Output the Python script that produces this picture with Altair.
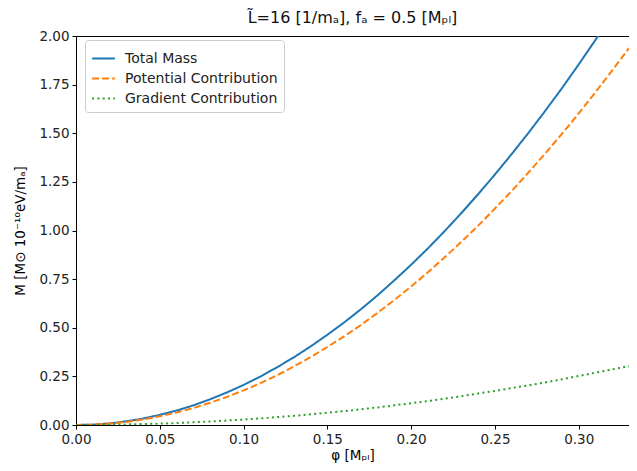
import altair as alt
import pandas as pd

phi = [0.00, 0.01, 0.02, 0.03, 0.04, 0.05, 0.06, 0.07, 0.08, 0.09, 0.10,
       0.11, 0.12, 0.13, 0.14, 0.15, 0.16, 0.17, 0.18, 0.19, 0.20,
       0.21, 0.22, 0.23, 0.24, 0.25, 0.26, 0.27, 0.28, 0.29, 0.30,
       0.31, 0.32, 0.33]
total_mass = [0, .002, .008, .019, .033, .052, .074, .101, .132, .167, .206,
              .249, .297, .348, .404, .464, .527, .595, .667, .744, .824,
              .908, .997, 1.090, 1.187, 1.288, 1.393, 1.502, 1.615, 1.732, 1.854,
              1.980, 2.109, 2.243]
potential = [0, .002, .007, .016, .028, .045, .064, .087, .114, .144, .178,
             .215, .256, .301, .349, .401, .456, .514, .577, .643, .712,
             .785, .862, .942, 1.025, 1.113, 1.203, 1.298, 1.396, 1.497, 1.602,
             1.711, 1.823, 1.938]
gradient = [0, .000, .001, .003, .005, .007, .010, .014, .018, .023, .028,
            .034, .041, .047, .055, .063, .071, .081, .090, .101, .112,
            .123, .135, .148, .162, .175, .190, .204, .219, .235, .252,
            .269, .286, .303]

series_names = ["Total Mass", "Potential Contribution", "Gradient Contribution"]
series_colors = ["#1f77b4", "#ff7f0e", "#2ca02c"]
series_dash = [[1, 0], [7, 3], [2, 3.3]]
x_ticks = [0.0, 0.05, 0.10, 0.15, 0.20, 0.25, 0.30]
y_ticks = [0.0, 0.25, 0.5, 0.75, 1.0, 1.25, 1.5, 1.75, 2.0]

rows = []
for name, vals in zip(series_names, [total_mass, potential, gradient]):
    for i, (x, y) in enumerate(zip(phi, vals)):
        rows.append({"phi": x, "M": y, "series": name, "order": i})
df = pd.DataFrame(rows)

font = "DejaVu Sans"

chart = alt.Chart(df).mark_line(strokeWidth=2, clip=True).encode(
    x=alt.X("phi:Q",
            scale=alt.Scale(domain=[0, 0.33], nice=False, zero=False),
            axis=alt.Axis(values=x_ticks, format=".2f", title="φ [Mₚₗ]",
                          grid=False, tickSize=4, tickColor="black",
                          domainColor="black", labelColor="#222",
                          labelFontSize=13.5, titleFontSize=13.5,
                          titleFontWeight="normal", titlePadding=3,
                          labelFlush=False, labelOverlap=False,
                          labelFont=font, titleFont=font, labelPadding=3)),
    y=alt.Y("M:Q",
            scale=alt.Scale(domain=[0, 2.0], nice=False),
            axis=alt.Axis(values=y_ticks, format=".2f",
                          title="M [M⊙ 10⁻¹⁰eV/mₐ]",
                          grid=False, tickSize=4, tickColor="black",
                          domainColor="black", labelColor="#222",
                          labelFontSize=13.5, titleFontSize=13.5,
                          titleFontWeight="normal", titlePadding=11,
                          labelFlush=False, labelOverlap=False,
                          labelFont=font, titleFont=font, labelPadding=3)),
    color=alt.Color("series:N",
                    scale=alt.Scale(domain=series_names, range=series_colors),
                    legend=alt.Legend(title=None, orient="none", legendX=9, legendY=4,
                                      symbolType="stroke", symbolSize=520,
                                      symbolStrokeWidth=2, labelFontSize=14,
                                      labelFont=font, labelColor="#222",
                                      fillColor="white", strokeColor="#ccc",
                                      cornerRadius=3, padding=6, rowPadding=0,
                                      labelOffset=9)),
    strokeDash=alt.StrokeDash("series:N",
                              scale=alt.Scale(domain=series_names, range=series_dash),
                              legend=None),
    order="order:Q",
).properties(
    width=553, height=389,
    title=alt.TitleParams("L̃=16 [1/mₐ], fₐ = 0.5 [Mₚₗ]", fontSize=16,
                          fontWeight="normal", font=font, color="#111", offset=3),
    autosize=alt.AutoSizeParams(type="none"),
    padding={"left": 68, "top": 28, "right": 0, "bottom": 38},
).configure_view(stroke="black", strokeWidth=1)

chart.save("out.html", embed_options={"renderer": "svg", "actions": False})
